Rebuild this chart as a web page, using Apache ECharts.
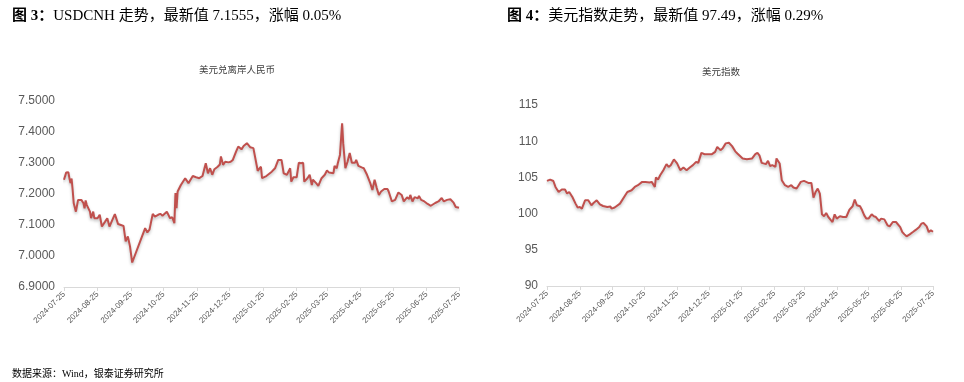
<!DOCTYPE html>
<html>
<head>
<meta charset="utf-8">
<script src="https://cdn.jsdelivr.net/npm/echarts@6/dist/echarts.min.js"></script>
<style>
html,body{margin:0;padding:0;background:#fff;}
#c{width:964px;height:382px;}
</style>
</head>
<body>
<div id="c"></div>
<script>
// x values: days since 2024-07-25
const tickDays = [0,31,62,92,123,153,184,215,243,274,304,335,365];
const tickLabels = ['2024-07-25','2024-08-25','2024-09-25','2024-10-25','2024-11-25','2024-12-25','2025-01-25','2025-02-25','2025-03-25','2025-04-25','2025-05-25','2025-06-25','2025-07-25'];

const cnhDays = [0,2,4,5,6,7,8,9,11,13,16,18,19,20,21,24,25,27,28,31,33,35,38,40,42,44,47,50,55,57,59,61,63,75,77,79,82,84,87,89,91,95,98,100,102,103,104,105,108,112,115,116,119,122,125,128,131,133,135,137,139,142,144,145,147,149,152,154,156,159,161,164,166,169,170,172,175,176,179,182,183,187,192,195,198,201,203,206,209,210,212,215,217,219,221,222,225,227,229,230,233,235,238,241,243,245,249,250,252,253,255,257,258,260,262,264,266,269,270,272,275,277,280,283,285,287,289,291,293,296,299,300,303,306,309,312,314,317,319,320,322,324,327,328,330,333,336,339,343,346,349,351,354,357,360,362,365];
const cnhValues = [7.246,7.269,7.270,7.251,7.235,7.250,7.213,7.170,7.143,7.181,7.181,7.170,7.154,7.179,7.165,7.143,7.122,7.143,7.122,7.122,7.133,7.095,7.111,7.122,7.095,7.111,7.135,7.103,7.097,7.047,7.063,7.031,6.979,7.090,7.076,7.085,7.136,7.127,7.133,7.136,7.130,7.143,7.122,7.125,7.106,7.203,7.154,7.208,7.229,7.251,7.235,7.229,7.258,7.254,7.251,7.258,7.299,7.267,7.283,7.262,7.280,7.288,7.295,7.321,7.294,7.304,7.302,7.304,7.310,7.337,7.353,7.344,7.355,7.364,7.362,7.351,7.348,7.344,7.275,7.288,7.251,7.258,7.272,7.283,7.310,7.310,7.267,7.262,7.283,7.240,7.254,7.254,7.301,7.299,7.301,7.240,7.251,7.262,7.229,7.246,7.235,7.226,7.251,7.262,7.276,7.269,7.267,7.291,7.283,7.299,7.326,7.428,7.364,7.283,7.304,7.332,7.301,7.301,7.310,7.291,7.286,7.283,7.262,7.235,7.213,7.246,7.219,7.197,7.208,7.216,7.216,7.208,7.176,7.181,7.205,7.197,7.176,7.189,7.184,7.197,7.176,7.190,7.186,7.194,7.181,7.176,7.168,7.162,7.171,7.176,7.187,7.176,7.181,7.183,7.172,7.158,7.1555];

const dxyDays = [0,3,6,8,11,14,17,19,21,24,27,29,31,33,36,39,42,44,47,50,53,57,58,60,61,64,65,69,74,76,80,83,86,90,93,97,99,102,103,105,107,110,113,115,117,120,123,126,129,132,135,138,141,143,146,149,151,156,159,161,164,166,169,172,175,178,180,185,189,194,197,199,201,203,207,209,211,213,216,217,220,222,225,228,231,233,236,238,240,243,245,247,250,252,254,256,258,260,262,264,266,268,270,272,274,277,280,283,286,289,291,293,296,298,300,302,304,307,309,311,314,316,319,322,324,327,330,334,336,338,340,343,346,349,352,354,356,359,361,363,365];
const dxyValues = [104.52,104.70,104.50,103.68,102.99,103.32,103.32,102.77,102.99,102.30,101.38,100.83,100.91,100.69,101.84,101.84,101.15,101.47,101.84,101.29,101.05,100.91,100.78,100.98,100.69,100.85,100.69,101.38,102.53,102.99,103.23,103.68,103.92,104.38,104.38,104.29,104.38,103.68,104.99,104.70,105.30,106.00,106.83,106.45,106.69,107.48,106.93,106.00,106.37,106.00,106.37,106.69,107.15,107.00,108.39,108.20,108.21,108.21,108.53,109.22,108.77,109.00,109.70,109.78,109.32,108.60,108.31,107.62,107.52,107.62,108.21,108.39,108.00,107.01,106.83,107.29,106.55,106.69,106.45,107.62,106.93,104.61,103.92,103.68,103.92,103.60,103.46,103.92,104.38,104.52,104.38,104.24,104.24,102.22,102.99,103.46,102.77,99.90,99.63,100.08,99.53,99.17,98.84,99.90,99.31,99.63,99.53,99.53,100.55,101.01,101.94,101.15,101.01,100.46,99.76,99.31,99.31,99.90,99.63,99.53,98.98,99.31,99.20,98.38,98.24,98.84,98.84,98.14,97.45,97.13,96.86,97.13,97.45,97.78,98.14,98.61,98.70,98.24,97.45,97.69,97.49];

const zip = (a, b) => a.map((d, i) => [d, b[i]]);
const serif = "'Liberation Serif','Noto Sans CJK SC',serif";
const sans = "'Liberation Sans','Noto Sans CJK SC',sans-serif";
const lineColor = '#c0504d';

function xAxisCfg(gi) {
  return {
    type: 'value', gridIndex: gi, min: 0, max: 365,
    axisLine: { show: true, lineStyle: { color: '#d9d9d9', width: 1 } },
    axisTick: { show: true, customValues: tickDays, length: 4, lineStyle: { color: '#d9d9d9' } },
    axisLabel: {
      customValues: tickDays, rotate: 45, fontSize: 8, color: '#595959', fontFamily: sans, margin: 6,
      formatter: v => tickLabels[tickDays.indexOf(v)] || ''
    },
    splitLine: { show: false }
  };
}
function seriesCfg(gi, data) {
  return {
    type: 'line', xAxisIndex: gi, yAxisIndex: gi, data: data, showSymbol: false, symbol: 'none',
    lineStyle: { color: lineColor, width: 2, shadowColor: 'rgba(0,0,0,0.25)', shadowBlur: 3, shadowOffsetY: 2 },
    animation: false
  };
}

const chart = echarts.init(document.getElementById('c'), null, { renderer: 'canvas' });
chart.setOption({
  animation: false,
  backgroundColor: '#fff',
  title: [
    { text: '{b|图 3：}USDCNH 走势，最新值 7.1555，涨幅 0.05%', left: 7, top: 4,
      textStyle: { fontSize: 15, fontWeight: 'normal', color: '#000', fontFamily: serif,
        rich: { b: { fontSize: 15, fontWeight: 'bold', color: '#000', fontFamily: serif } } } },
    { text: '{b|图 4：}美元指数走势，最新值 97.49，涨幅 0.29%', left: 502, top: 4,
      textStyle: { fontSize: 15, fontWeight: 'normal', color: '#000', fontFamily: serif,
        rich: { b: { fontSize: 15, fontWeight: 'bold', color: '#000', fontFamily: serif } } } },
    { text: '美元兑离岸人民币', left: 232, top: 61, textAlign: 'center',
      textStyle: { fontSize: 9.5, fontWeight: 'normal', color: '#404040', fontFamily: serif } },
    { text: '美元指数', left: 716, top: 63, textAlign: 'center',
      textStyle: { fontSize: 9.5, fontWeight: 'normal', color: '#404040', fontFamily: serif } },
    { text: '数据来源：Wind，银泰证券研究所', left: 7, top: 364,
      textStyle: { fontSize: 10, fontWeight: 'normal', color: '#000', fontFamily: serif } }
  ],
  grid: [
    { left: 64, right: 505, top: 101, bottom: 95 },
    { left: 547, right: 31, top: 105, bottom: 96 }
  ],
  xAxis: [xAxisCfg(0), xAxisCfg(1)],
  yAxis: [
    { type: 'value', gridIndex: 0, min: 6.9, max: 7.5, interval: 0.1,
      axisLine: { show: false }, axisTick: { show: false }, splitLine: { show: false },
      axisLabel: { fontSize: 12, color: '#595959', fontFamily: sans, margin: 9, formatter: v => v.toFixed(4) } },
    { type: 'value', gridIndex: 1, min: 90, max: 115, interval: 5,
      axisLine: { show: false }, axisTick: { show: false }, splitLine: { show: false },
      axisLabel: { fontSize: 12, color: '#595959', fontFamily: sans, margin: 9 } }
  ],
  series: [seriesCfg(0, zip(cnhDays, cnhValues)), seriesCfg(1, zip(dxyDays, dxyValues))]
});
</script>
</body>
</html>
